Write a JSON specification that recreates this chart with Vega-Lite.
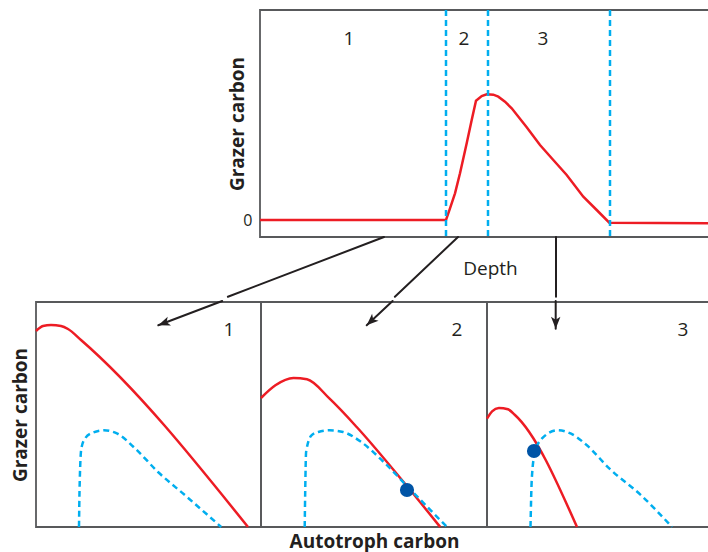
{
  "$schema": "https://vega.github.io/schema/vega-lite/v6.json",
  "padding": {"left": 10, "top": 7, "right": 0, "bottom": 0},
  "config": {
    "font": "Open Sans",
    "view": {"stroke": "#58595b", "strokeWidth": 1.8},
    "axis": {"grid": false, "ticks": false, "domain": false, "labelColor": "#231f20", "titleColor": "#231f20"}
  },
  "datasets": {
    "depthProfile": [
      {"depth": 0, "grazer": 0}, {"depth": 186, "grazer": 0}, {"depth": 190, "grazer": 11.7},
      {"depth": 195, "grazer": 26.7}, {"depth": 200, "grazer": 46.7}, {"depth": 206.7, "grazer": 76.7},
      {"depth": 211.7, "grazer": 100}, {"depth": 216, "grazer": 119.3}, {"depth": 221.7, "grazer": 124},
      {"depth": 226.7, "grazer": 125.7}, {"depth": 233.3, "grazer": 125.3}, {"depth": 238.3, "grazer": 123.3},
      {"depth": 245, "grazer": 118.3}, {"depth": 251.7, "grazer": 111.7}, {"depth": 266.7, "grazer": 92.7},
      {"depth": 280, "grazer": 75}, {"depth": 293.3, "grazer": 60}, {"depth": 306.7, "grazer": 45},
      {"depth": 323.3, "grazer": 23.3}, {"depth": 336.7, "grazer": 10}, {"depth": 349.3, "grazer": -2.7},
      {"depth": 460, "grazer": -3.3}
    ],
    "zoneBounds": [{"depth": 186}, {"depth": 228}, {"depth": 350}],
    "zoneLabels": [
      {"zone": "1", "depth": 89, "grazer": 181},
      {"zone": "2", "depth": 204, "grazer": 181},
      {"zone": "3", "depth": 283, "grazer": 181}
    ],
    "arrowsUpper": [
      {"zone": "1", "depth": [124, -32.1], "grazer": [-17, -76.8], "step": [0, 1]},
      {"zone": "2", "depth": [198, 134.9], "grazer": [-17, -76.8], "step": [0, 1]},
      {"zone": "3", "depth": [296, 296], "grazer": [-17, -76.8], "step": [0, 1]}
    ],
    "arrowsLower": [
      {"panel": "1", "autotroph": [186.2, 122.3], "grazer": [226, 201.7], "step": [0, 1]},
      {"panel": "2", "autotroph": [131.6, 105.7], "grazer": [226, 201.7], "step": [0, 1]},
      {"panel": "3", "autotroph": [68.7, 68.7], "grazer": [226, 198.3], "step": [0, 1]}
    ],
    "isoclines": [
      {"panel": "1", "curve": "autotroph", "autotroph": 0, "grazer": 196},
      {"panel": "1", "curve": "autotroph", "autotroph": 7, "grazer": 201},
      {"panel": "1", "curve": "autotroph", "autotroph": 15, "grazer": 202},
      {"panel": "1", "curve": "autotroph", "autotroph": 25, "grazer": 201},
      {"panel": "1", "curve": "autotroph", "autotroph": 32, "grazer": 198},
      {"panel": "1", "curve": "autotroph", "autotroph": 45, "grazer": 187},
      {"panel": "1", "curve": "autotroph", "autotroph": 212, "grazer": 0},
      {"panel": "1", "curve": "grazer", "autotroph": 43, "grazer": 0},
      {"panel": "1", "curve": "grazer", "autotroph": 43.5, "grazer": 35},
      {"panel": "1", "curve": "grazer", "autotroph": 45.3, "grazer": 78.3},
      {"panel": "1", "curve": "grazer", "autotroph": 48.9, "grazer": 88.3},
      {"panel": "1", "curve": "grazer", "autotroph": 56.6, "grazer": 94.3},
      {"panel": "1", "curve": "grazer", "autotroph": 67.8, "grazer": 96.7},
      {"panel": "1", "curve": "grazer", "autotroph": 81.4, "grazer": 93.3},
      {"panel": "1", "curve": "grazer", "autotroph": 99.4, "grazer": 78.3},
      {"panel": "1", "curve": "grazer", "autotroph": 122, "grazer": 55},
      {"panel": "1", "curve": "grazer", "autotroph": 149.1, "grazer": 31.7},
      {"panel": "1", "curve": "grazer", "autotroph": 185.2, "grazer": 0},
      {"panel": "2", "curve": "autotroph", "autotroph": 0, "grazer": 129},
      {"panel": "2", "curve": "autotroph", "autotroph": 14.4, "grazer": 141.7},
      {"panel": "2", "curve": "autotroph", "autotroph": 32.5, "grazer": 149},
      {"panel": "2", "curve": "autotroph", "autotroph": 46, "grazer": 147.7},
      {"panel": "2", "curve": "autotroph", "autotroph": 68.6, "grazer": 128.3},
      {"panel": "2", "curve": "autotroph", "autotroph": 95.7, "grazer": 100},
      {"panel": "2", "curve": "autotroph", "autotroph": 145.3, "grazer": 41.7},
      {"panel": "2", "curve": "autotroph", "autotroph": 179.2, "grazer": 0},
      {"panel": "2", "curve": "grazer", "autotroph": 43.7, "grazer": 0},
      {"panel": "2", "curve": "grazer", "autotroph": 44.2, "grazer": 35},
      {"panel": "2", "curve": "grazer", "autotroph": 45.1, "grazer": 75},
      {"panel": "2", "curve": "grazer", "autotroph": 50.5, "grazer": 91.7},
      {"panel": "2", "curve": "grazer", "autotroph": 57.3, "grazer": 95},
      {"panel": "2", "curve": "grazer", "autotroph": 68.6, "grazer": 96.7},
      {"panel": "2", "curve": "grazer", "autotroph": 82.1, "grazer": 95},
      {"panel": "2", "curve": "grazer", "autotroph": 100.2, "grazer": 85},
      {"panel": "2", "curve": "grazer", "autotroph": 122.7, "grazer": 65},
      {"panel": "2", "curve": "grazer", "autotroph": 145.3, "grazer": 41.7},
      {"panel": "2", "curve": "grazer", "autotroph": 186, "grazer": 0},
      {"panel": "3", "curve": "autotroph", "autotroph": 0, "grazer": 108.3},
      {"panel": "3", "curve": "autotroph", "autotroph": 5.1, "grazer": 115.7},
      {"panel": "3", "curve": "autotroph", "autotroph": 11.9, "grazer": 119},
      {"panel": "3", "curve": "autotroph", "autotroph": 20.9, "grazer": 117.7},
      {"panel": "3", "curve": "autotroph", "autotroph": 27.7, "grazer": 112.3},
      {"panel": "3", "curve": "autotroph", "autotroph": 90, "grazer": 0},
      {"panel": "3", "curve": "grazer", "autotroph": 43.5, "grazer": 0},
      {"panel": "3", "curve": "grazer", "autotroph": 44.8, "grazer": 48.3},
      {"panel": "3", "curve": "grazer", "autotroph": 48, "grazer": 75},
      {"panel": "3", "curve": "grazer", "autotroph": 54.8, "grazer": 88.3},
      {"panel": "3", "curve": "grazer", "autotroph": 70.6, "grazer": 96.7},
      {"panel": "3", "curve": "grazer", "autotroph": 84.1, "grazer": 93.3},
      {"panel": "3", "curve": "grazer", "autotroph": 99.9, "grazer": 81.7},
      {"panel": "3", "curve": "grazer", "autotroph": 122.5, "grazer": 58.3},
      {"panel": "3", "curve": "grazer", "autotroph": 154.1, "grazer": 31.7},
      {"panel": "3", "curve": "grazer", "autotroph": 185, "grazer": 0}
    ],
    "equilibria": [
      {"panel": "2", "autotroph": 146, "grazer": 37},
      {"panel": "3", "autotroph": 47, "grazer": 76}
    ],
    "panelLabels": [
      {"panel": "1", "autotroph": 193, "grazer": 197},
      {"panel": "2", "autotroph": 196, "grazer": 197},
      {"panel": "3", "autotroph": 196, "grazer": 197}
    ]
  },
  "spacing": 0,
  "vconcat": [
    {
      "spacing": 0,
      "bounds": "flush",
      "hconcat": [
        {
          "width": 224, "height": 227,
          "view": {"stroke": null},
          "data": {"values": []},
          "mark": "point"
        },
        {
          "width": 460, "height": 227,
          "layer": [
            {
              "data": {"name": "depthProfile"},
              "mark": {"type": "line", "color": "#ed1c24", "strokeWidth": 2.5},
              "encoding": {
                "x": {"field": "depth", "type": "quantitative", "scale": {"domain": [0, 460], "nice": false, "zero": false},
                  "axis": {"title": "Depth", "labels": false, "titleFontSize": 19, "titleFontWeight": "normal", "titlePadding": 22}},
                "y": {"field": "grazer", "type": "quantitative", "scale": {"domain": [-17, 210], "nice": false, "zero": false},
                  "axis": {"title": "Grazer carbon", "values": [0], "labelFontSize": 16, "labelPadding": 8, "titleFontSize": 19, "titleFontWeight": "bold", "titlePadding": -5}}
              }
            },
            {
              "data": {"name": "zoneBounds"},
              "mark": {"type": "rule", "color": "#00aeef", "strokeWidth": 2.5, "strokeDash": [6, 4]},
              "encoding": {"x": {"field": "depth", "type": "quantitative"}}
            },
            {
              "data": {"name": "zoneLabels"},
              "mark": {"type": "text", "fontSize": 19, "color": "#231f20"},
              "encoding": {
                "x": {"field": "depth", "type": "quantitative"},
                "y": {"field": "grazer", "type": "quantitative"},
                "text": {"field": "zone"}
              }
            },
            {
              "data": {"name": "arrowsUpper"},
              "transform": [{"flatten": ["depth", "grazer", "step"]}],
              "mark": {"type": "trail", "color": "#231f20"},
              "encoding": {
                "x": {"field": "depth", "type": "quantitative"},
                "y": {"field": "grazer", "type": "quantitative"},
                "detail": {"field": "zone"},
                "order": {"field": "step", "type": "quantitative"},
                "size": {"value": 2}
              }
            }
          ]
        }
      ]
    },
    {
      "spacing": 0,
      "bounds": "flush",
      "hconcat": [
        {
          "width": 225, "height": 225,
          "layer": [
            {
              "data": {"name": "isoclines"},
              "transform": [{"filter": "datum.panel === '1' && datum.curve === 'autotroph'"}],
              "mark": {"type": "line", "color": "#ed1c24", "strokeWidth": 2.5, "interpolate": "monotone"},
              "encoding": {
                "x": {"field": "autotroph", "type": "quantitative", "scale": {"domain": [0, 225], "nice": false}, "axis": null},
                "y": {"field": "grazer", "type": "quantitative", "scale": {"domain": [0, 225], "nice": false},
                  "axis": {"title": "Grazer carbon", "labels": false, "titleFontSize": 19, "titleFontWeight": "bold", "titlePadding": 6}}
              }
            },
            {
              "data": {"name": "isoclines"},
              "transform": [{"filter": "datum.panel === '1' && datum.curve === 'grazer'"}],
              "mark": {"type": "line", "color": "#00aeef", "strokeWidth": 2.5, "strokeDash": [6, 4], "interpolate": "monotone"},
              "encoding": {
                "x": {"field": "autotroph", "type": "quantitative"},
                "y": {"field": "grazer", "type": "quantitative"}
              }
            },
            {
              "data": {"name": "panelLabels"},
              "transform": [{"filter": "datum.panel === '1'"}],
              "mark": {"type": "text", "fontSize": 19, "color": "#231f20"},
              "encoding": {
                "x": {"field": "autotroph", "type": "quantitative"},
                "y": {"field": "grazer", "type": "quantitative"},
                "text": {"field": "panel"}
              }
            },
            {
              "data": {"name": "arrowsLower"},
              "transform": [{"filter": "datum.panel === '1'"}, {"flatten": ["autotroph", "grazer", "step"]}],
              "mark": {"type": "trail", "color": "#231f20"},
              "encoding": {
                "x": {"field": "autotroph", "type": "quantitative"},
                "y": {"field": "grazer", "type": "quantitative"},
                "order": {"field": "step", "type": "quantitative"},
                "size": {"value": 2}
              }
            },
            {
              "data": {"name": "arrowsLower"},
              "transform": [
                {"filter": "datum.panel === '1'"},
                {"calculate": "atan2(datum.autotroph[1] - datum.autotroph[0], datum.grazer[1] - datum.grazer[0]) * 180 / PI", "as": "heading"},
                {"flatten": ["autotroph", "grazer", "step"]},
                {"filter": "datum.step === 1"}
              ],
              "mark": {"type": "point", "shape": "M0,0L-0.4,1L0,0.75L0.4,1Z", "filled": true, "size": 560, "color": "#231f20", "opacity": 1},
              "encoding": {
                "x": {"field": "autotroph", "type": "quantitative"},
                "y": {"field": "grazer", "type": "quantitative"},
                "angle": {"field": "heading", "type": "quantitative", "scale": null}
              }
            }
          ]
        },
        {
          "width": 226, "height": 225,
          "layer": [
            {
              "data": {"name": "isoclines"},
              "transform": [{"filter": "datum.panel === '2' && datum.curve === 'autotroph'"}],
              "mark": {"type": "line", "color": "#ed1c24", "strokeWidth": 2.5, "interpolate": "monotone"},
              "encoding": {
                "x": {"field": "autotroph", "type": "quantitative", "scale": {"domain": [0, 226], "nice": false},
                  "axis": {"title": "Autotroph carbon", "labels": false, "titleFontSize": 19, "titleFontWeight": "bold", "titlePadding": 5}},
                "y": {"field": "grazer", "type": "quantitative", "scale": {"domain": [0, 225], "nice": false}, "axis": null}
              }
            },
            {
              "data": {"name": "isoclines"},
              "transform": [{"filter": "datum.panel === '2' && datum.curve === 'grazer'"}],
              "mark": {"type": "line", "color": "#00aeef", "strokeWidth": 2.5, "strokeDash": [6, 4], "interpolate": "monotone"},
              "encoding": {
                "x": {"field": "autotroph", "type": "quantitative"},
                "y": {"field": "grazer", "type": "quantitative"}
              }
            },
            {
              "data": {"name": "equilibria"},
              "transform": [{"filter": "datum.panel === '2'"}],
              "mark": {"type": "point", "shape": "circle", "filled": true, "size": 200, "color": "#0054a6", "opacity": 1},
              "encoding": {
                "x": {"field": "autotroph", "type": "quantitative"},
                "y": {"field": "grazer", "type": "quantitative"}
              }
            },
            {
              "data": {"name": "panelLabels"},
              "transform": [{"filter": "datum.panel === '2'"}],
              "mark": {"type": "text", "fontSize": 19, "color": "#231f20"},
              "encoding": {
                "x": {"field": "autotroph", "type": "quantitative"},
                "y": {"field": "grazer", "type": "quantitative"},
                "text": {"field": "panel"}
              }
            },
            {
              "data": {"name": "arrowsLower"},
              "transform": [{"filter": "datum.panel === '2'"}, {"flatten": ["autotroph", "grazer", "step"]}],
              "mark": {"type": "trail", "color": "#231f20"},
              "encoding": {
                "x": {"field": "autotroph", "type": "quantitative"},
                "y": {"field": "grazer", "type": "quantitative"},
                "order": {"field": "step", "type": "quantitative"},
                "size": {"value": 2}
              }
            },
            {
              "data": {"name": "arrowsLower"},
              "transform": [
                {"filter": "datum.panel === '2'"},
                {"calculate": "atan2(datum.autotroph[1] - datum.autotroph[0], datum.grazer[1] - datum.grazer[0]) * 180 / PI", "as": "heading"},
                {"flatten": ["autotroph", "grazer", "step"]},
                {"filter": "datum.step === 1"}
              ],
              "mark": {"type": "point", "shape": "M0,0L-0.4,1L0,0.75L0.4,1Z", "filled": true, "size": 560, "color": "#231f20", "opacity": 1},
              "encoding": {
                "x": {"field": "autotroph", "type": "quantitative"},
                "y": {"field": "grazer", "type": "quantitative"},
                "angle": {"field": "heading", "type": "quantitative", "scale": null}
              }
            }
          ]
        },
        {
          "width": 225, "height": 225,
          "layer": [
            {
              "data": {"name": "isoclines"},
              "transform": [{"filter": "datum.panel === '3' && datum.curve === 'autotroph'"}],
              "mark": {"type": "line", "color": "#ed1c24", "strokeWidth": 2.5, "interpolate": "monotone"},
              "encoding": {
                "x": {"field": "autotroph", "type": "quantitative", "scale": {"domain": [0, 225], "nice": false}, "axis": null},
                "y": {"field": "grazer", "type": "quantitative", "scale": {"domain": [0, 225], "nice": false}, "axis": null}
              }
            },
            {
              "data": {"name": "isoclines"},
              "transform": [{"filter": "datum.panel === '3' && datum.curve === 'grazer'"}],
              "mark": {"type": "line", "color": "#00aeef", "strokeWidth": 2.5, "strokeDash": [6, 4], "interpolate": "monotone"},
              "encoding": {
                "x": {"field": "autotroph", "type": "quantitative"},
                "y": {"field": "grazer", "type": "quantitative"}
              }
            },
            {
              "data": {"name": "equilibria"},
              "transform": [{"filter": "datum.panel === '3'"}],
              "mark": {"type": "point", "shape": "circle", "filled": true, "size": 200, "color": "#0054a6", "opacity": 1},
              "encoding": {
                "x": {"field": "autotroph", "type": "quantitative"},
                "y": {"field": "grazer", "type": "quantitative"}
              }
            },
            {
              "data": {"name": "panelLabels"},
              "transform": [{"filter": "datum.panel === '3'"}],
              "mark": {"type": "text", "fontSize": 19, "color": "#231f20"},
              "encoding": {
                "x": {"field": "autotroph", "type": "quantitative"},
                "y": {"field": "grazer", "type": "quantitative"},
                "text": {"field": "panel"}
              }
            },
            {
              "data": {"name": "arrowsLower"},
              "transform": [{"filter": "datum.panel === '3'"}, {"flatten": ["autotroph", "grazer", "step"]}],
              "mark": {"type": "trail", "color": "#231f20"},
              "encoding": {
                "x": {"field": "autotroph", "type": "quantitative"},
                "y": {"field": "grazer", "type": "quantitative"},
                "order": {"field": "step", "type": "quantitative"},
                "size": {"value": 2}
              }
            },
            {
              "data": {"name": "arrowsLower"},
              "transform": [
                {"filter": "datum.panel === '3'"},
                {"calculate": "atan2(datum.autotroph[1] - datum.autotroph[0], datum.grazer[1] - datum.grazer[0]) * 180 / PI", "as": "heading"},
                {"flatten": ["autotroph", "grazer", "step"]},
                {"filter": "datum.step === 1"}
              ],
              "mark": {"type": "point", "shape": "M0,0L-0.4,1L0,0.75L0.4,1Z", "filled": true, "size": 560, "color": "#231f20", "opacity": 1},
              "encoding": {
                "x": {"field": "autotroph", "type": "quantitative"},
                "y": {"field": "grazer", "type": "quantitative"},
                "angle": {"field": "heading", "type": "quantitative", "scale": null}
              }
            }
          ]
        }
      ]
    }
  ]
}
